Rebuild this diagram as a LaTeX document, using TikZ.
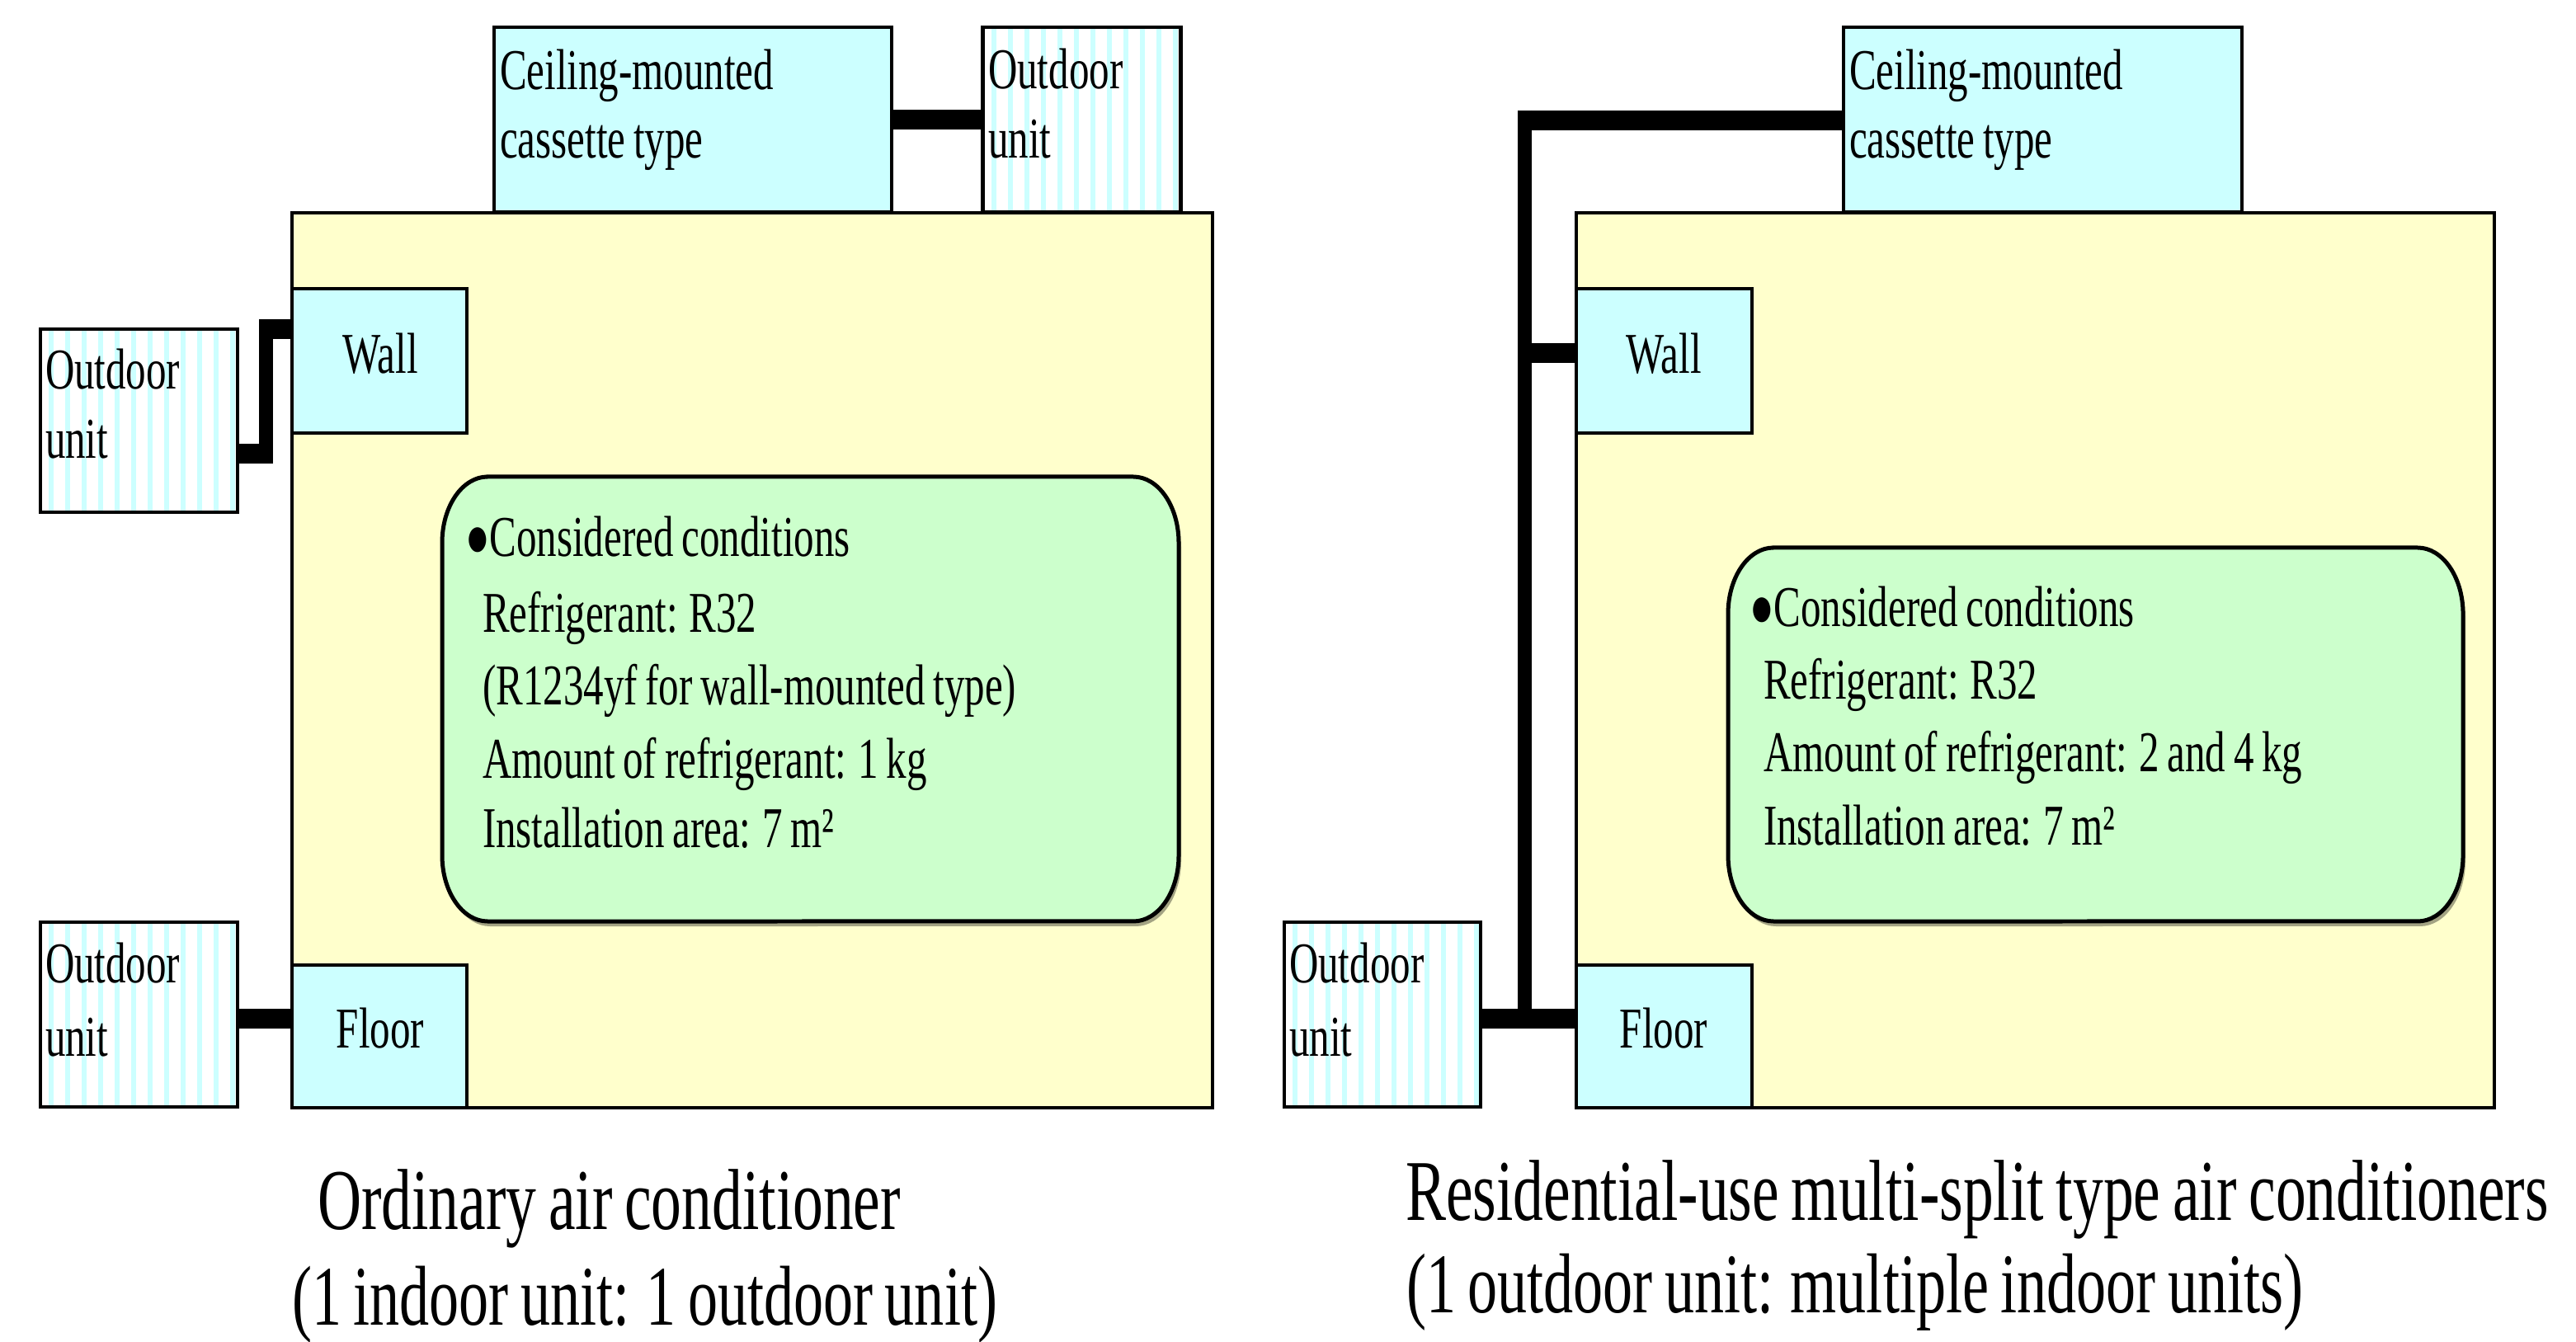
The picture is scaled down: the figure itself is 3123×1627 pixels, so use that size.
\documentclass[tikz,border=0pt]{standalone}
\usepackage{fontspec}
\setmainfont{Liberation Serif}[FakeStretch=0.7, WordSpace=0.8]
\definecolor{cyanbox}{HTML}{CCFFFF}
\definecolor{roomc}{HTML}{FFFFCC}
\definecolor{greenc}{HTML}{CCFFCC}
\definecolor{shadowc}{HTML}{A3A383}
\definecolor{stripec}{HTML}{CCFFFF}
% elliptical-cornered box: x1 y1 x2 y2 (pixel coords) options
\newcommand\ellbox[5]{%
  \path[#5] (#1+55,#2) -- (#3-55,#2)
    arc[start angle=90,end angle=0,x radius=5.5pt,y radius=8pt]
    -- (#3,#4-80)
    arc[start angle=0,end angle=-90,x radius=5.5pt,y radius=8pt]
    -- (#1+55,#4)
    arc[start angle=270,end angle=180,x radius=5.5pt,y radius=8pt]
    -- (#1,#2+80)
    arc[start angle=180,end angle=90,x radius=5.5pt,y radius=8pt]
    -- cycle;}
\begin{document}
\begin{tikzpicture}[x=0.1pt,y=-0.1pt,line join=miter,
  box/.style={draw, line width=0.45pt, inner sep=0pt, outer sep=0pt, anchor=north west},
  unitbox/.style={box, fill=cyanbox},
  roombox/.style={box, fill=roomc},
  outbox/.style={box, fill=white, path picture={
      \foreach \k in {0,...,12}{
        \fill[stripec] ([xshift=1pt+\k*2pt]path picture bounding box.south west)
          rectangle ([xshift=1.6pt+\k*2pt]path picture bounding box.north west);}}},
  pipeh/.style={line width=2.4pt},
  pipev/.style={line width=1.7pt},
  t7/.style={font=\fontsize{7pt}{8.5pt}\selectfont, inner sep=0pt, anchor=base west},
  t7c/.style={t7, anchor=base},
  t10/.style={font=\fontsize{10.3pt}{12pt}\selectfont, inner sep=0pt, anchor=base west},
  t10b/.style={t10, font=\fontsize{10.5pt}{12pt}\selectfont}]
\useasboundingbox (0,0) rectangle (3123,1627);
\fill[white] (0,0) rectangle (3123,1627);

% ---------------- left panel ----------------
\node[unitbox, minimum width=48.2pt, minimum height=22.4pt] (ceilL) at (599,33) {};
\node[outbox, minimum width=24pt, minimum height=22.4pt] (outTL) at (1191.5,33) {};
\node[roombox, minimum width=111.6pt, minimum height=108.5pt] (roomL) at (354,258) {};
\node[unitbox, minimum width=21.2pt, minimum height=17.5pt] (wallL) at (354,350) {};
\node[unitbox, minimum width=21.2pt, minimum height=17.3pt] (floorL) at (354,1170) {};
\node[outbox, minimum width=23.9pt, minimum height=22.2pt] (outWL) at (49,399) {};
\node[outbox, minimum width=23.9pt, minimum height=22.4pt] (outFL) at (49,1118) {};
\ellbox{539}{584}{1432}{1123}{fill=shadowc}
\ellbox{536}{578}{1429}{1117}{fill=greenc, draw, line width=0.5pt}

% ---------------- right panel ----------------
\node[unitbox, minimum width=48.3pt, minimum height=22.4pt] (ceilR) at (2235,33) {};
\node[roombox, minimum width=111.3pt, minimum height=108.5pt] (roomR) at (1911,258) {};
\node[unitbox, minimum width=21.3pt, minimum height=17.5pt] (wallR) at (1911,350) {};
\node[unitbox, minimum width=21.3pt, minimum height=17.3pt] (floorR) at (1911,1170) {};
\node[outbox, minimum width=23.8pt, minimum height=22.4pt] (outR) at (1557,1118) {};
\ellbox{2098}{670}{2989}{1123}{fill=shadowc}
\ellbox{2095}{664}{2986}{1117}{fill=greenc, draw, line width=0.5pt}

% ---------------- pipes ----------------
\draw[pipeh] (ceilL) -- (outTL);
\coordinate (fL) at (300,1235);
\draw[pipeh] (fL -| outFL.east) -- (fL -| floorL.west);
\coordinate (wLb) at (331,550);
\coordinate (wLt) at (314,399);
\coordinate (wLv1) at (322.5,387);
\coordinate (wLv2) at (322.5,562);
\draw[pipeh] (wLb -| outWL.east) -- (wLb);
\draw[pipev] (wLv1) -- (wLv2);
\draw[pipeh] (wLt) -- (wLt -| wallL.west);

\coordinate (vRt) at (1848.5,134);
\coordinate (vRb) at (1848.5,1247);
\draw[pipev] (vRt) -- (vRb);
\coordinate (hRt) at (1840,146);
\draw[pipeh] (hRt) -- (hRt -| ceilR.west);
\coordinate (hRw) at (1848,428);
\draw[pipeh] (hRw) -- (hRw -| wallR.west);
\coordinate (hRf) at (1800,1235);
\draw[pipeh] (hRf -| outR.east) -- (hRf -| floorR.west);

% ---------------- texts ----------------
\node[t7] (tCL1) at (604,109) {Ceiling-mounted};
\node[t7] (tCL2) at (604,192) {cassette type};
\node[t7] (tOT1) at (1196,108) {Outdoor};
\node[t7] (tOT2) at (1196,192) {unit};
\node[t7] (tOW1) at (53,472) {Outdoor};
\node[t7] (tOW2) at (53,556) {unit};
\node[t7] (tOF1) at (53,1192) {Outdoor};
\node[t7] (tOF2) at (53,1280) {unit};
\node[t7c] (tWL) at (461,453) {Wall};
\node[t7c] (tFL) at (461,1270) {Floor};
\node[t7] (tGL1) at (562,675) {●Considered conditions};
\node[t7] (tGL2) at (583,767) {Refrigerant: R32};
\node[t7] (tGL3) at (583,855) {(R1234yf for wall-mounted type)};
\node[t7] (tGL4) at (583,943) {Amount of refrigerant: 1 kg};
\node[t7] (tGL5) at (583,1027) {Installation area: 7 m²};
\node[t10b] (capL1) at (383,1490) {Ordinary air conditioner};
\node[t10] (capL2) at (352,1606) {(1 indoor unit: 1 outdoor unit)};

\node[t7] (tCR1) at (2240,109) {Ceiling-mounted};
\node[t7] (tCR2) at (2240,192) {cassette type};
\node[t7] (tOR1) at (1561,1192) {Outdoor};
\node[t7] (tOR2) at (1561,1280) {unit};
\node[t7c] (tWR) at (2017,453) {Wall};
\node[t7c] (tFR) at (2017,1270) {Floor};
\node[t7] (tGR1) at (2119,760) {●Considered conditions};
\node[t7] (tGR2) at (2136,848) {Refrigerant: R32};
\node[t7] (tGR3) at (2136,936) {Amount of refrigerant: 2 and 4 kg};
\node[t7] (tGR4) at (2136,1024) {Installation area: 7 m²};
\node[t10b] (capR1) at (1702,1479) {Residential-use multi-split type air conditioners};
\node[t10] (capR2) at (1703,1591) {(1 outdoor unit: multiple indoor units)};
\end{tikzpicture}
\end{document}
